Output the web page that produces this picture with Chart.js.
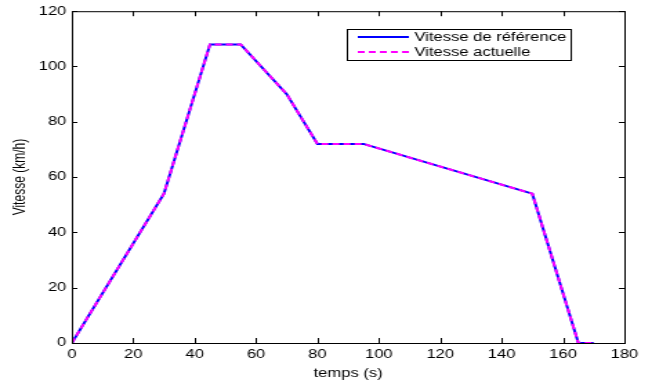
<!DOCTYPE html>
<html>
<head>
<meta charset="utf-8">
<script src="https://cdn.jsdelivr.net/npm/chart.js@4/dist/chart.umd.min.js"></script>
<style>
  html, body { margin: 0; padding: 0; background: #fff; overflow: hidden; }
  /* la figure d'origine est étirée horizontalement (~1.38x) */
  #wrap { width: 472px; height: 381px; transform: scaleX(1.3814); transform-origin: 0 0; }
</style>
</head>
<body>
<div id="wrap"><canvas id="c"></canvas></div>
<script>
// Profil de vitesse — référence vs actuelle
const temps       = [0, 30, 45, 55, 70, 80, 95, 150, 165, 170];
const vitesseRef  = [0, 54, 108, 108, 90, 72, 72, 54, 0, 0];
const vitesseAct  = [0, 54, 108, 108, 90, 72, 72, 54, 0, 0];
const xTicks = [0, 20, 40, 60, 80, 100, 120, 140, 160, 180];
const yTicks = [0, 20, 40, 60, 80, 100, 120];

const FONT = "'Liberation Sans', Arial, sans-serif";

// boîte + graduations intérieures sur les quatre côtés (style MATLAB)
const boxTicks = {
  id: "boxTicks",
  afterDraw(chart) {
    const { ctx, chartArea: a, scales: { x, y } } = chart;
    ctx.save();
    ctx.strokeStyle = "#000";
    ctx.lineWidth = 1;
    ctx.strokeRect(a.left + 0.5, a.top + 0.5, a.right - a.left, a.bottom - a.top);
    const LX = 4, LY = 5;
    ctx.beginPath();
    for (const v of xTicks) {
      const px = Math.round(x.getPixelForValue(v)) + 0.5;
      ctx.moveTo(px, a.bottom); ctx.lineTo(px, a.bottom - LY);
      ctx.moveTo(px, a.top); ctx.lineTo(px, a.top + LY);
    }
    for (const v of yTicks) {
      const py = Math.round(y.getPixelForValue(v)) + 0.5;
      ctx.moveTo(a.left, py); ctx.lineTo(a.left + LX, py);
      ctx.moveTo(a.right, py); ctx.lineTo(a.right - LX, py);
    }
    ctx.stroke();
    ctx.restore();
  },
};

// légende encadrée en haut à droite
const boxLegend = {
  id: "boxLegend",
  afterDraw(chart) {
    const { ctx } = chart;
    const x0 = 251, y0 = 29, w = 162, h = 31;
    ctx.save();
    ctx.fillStyle = "#fff";
    ctx.fillRect(x0, y0, w, h);
    ctx.strokeStyle = "#000";
    ctx.lineWidth = 1;
    ctx.strokeRect(x0 + 0.5, y0 + 0.5, w, h);
    ctx.font = "12px " + FONT;
    ctx.textBaseline = "middle";
    chart.data.datasets.forEach((ds, i) => {
      const ly = y0 + 8 + i * 15;
      ctx.strokeStyle = ds.borderColor;
      ctx.lineWidth = 2;
      ctx.setLineDash(ds.borderDash || []);
      ctx.beginPath();
      ctx.moveTo(x0 + 8, ly);
      ctx.lineTo(x0 + 45, ly);
      ctx.stroke();
      ctx.setLineDash([]);
      ctx.fillStyle = "#000";
      ctx.fillText(ds.label, x0 + 49, ly + 1);
    });
    ctx.restore();
  },
};

new Chart(document.getElementById("c"), {
  type: "line",
  data: {
    datasets: [
      {
        label: "Vitesse de référence",
        data: temps.map((t, i) => ({ x: t, y: vitesseRef[i] })),
        borderColor: "#0000FF",
        borderWidth: 2,
        pointRadius: 0,
        tension: 0,
        order: 1,
      },
      {
        label: "Vitesse actuelle",
        data: temps.map((t, i) => ({ x: t, y: vitesseAct[i] })),
        borderColor: "#FF00FF",
        borderWidth: 2,
        borderDash: [5, 3],
        pointRadius: 0,
        tension: 0,
        order: 0,
      },
    ],
  },
  options: {
    responsive: true,
    maintainAspectRatio: false,
    animation: false,
    layout: { padding: { top: 11, right: 20, left: 0, bottom: 0 } },
    plugins: { legend: { display: false }, tooltip: { enabled: false } },
    scales: {
      x: {
        type: "linear",
        min: 0, max: 180,
        afterBuildTicks: (s) => { s.ticks = xTicks.map((v) => ({ value: v })); },
        afterFit: (s) => { s.height = 38; },
        grid: { display: false, drawTicks: false },
        border: { display: false },
        ticks: { color: "#000", padding: 4, maxRotation: 0, font: { family: FONT, size: 12 } },
        title: { display: true, text: "temps (s)", color: "#000", padding: { top: 3, bottom: 0 }, font: { family: FONT, size: 12 } },
      },
      y: {
        type: "linear",
        min: 0, max: 120,
        afterBuildTicks: (s) => { s.ticks = yTicks.map((v) => ({ value: v })); },
        afterFit: (s) => { s.width = 52; },
        grid: { display: false, drawTicks: false },
        border: { display: false },
        ticks: { color: "#000", padding: 4, font: { family: FONT, size: 12 } },
        title: { display: true, text: "Vitesse (km/h)", color: "#000", padding: { top: 7, bottom: 0 }, font: { family: FONT, size: 12 } },
      },
    },
  },
  plugins: [boxTicks, boxLegend],
});
</script>
</body>
</html>
